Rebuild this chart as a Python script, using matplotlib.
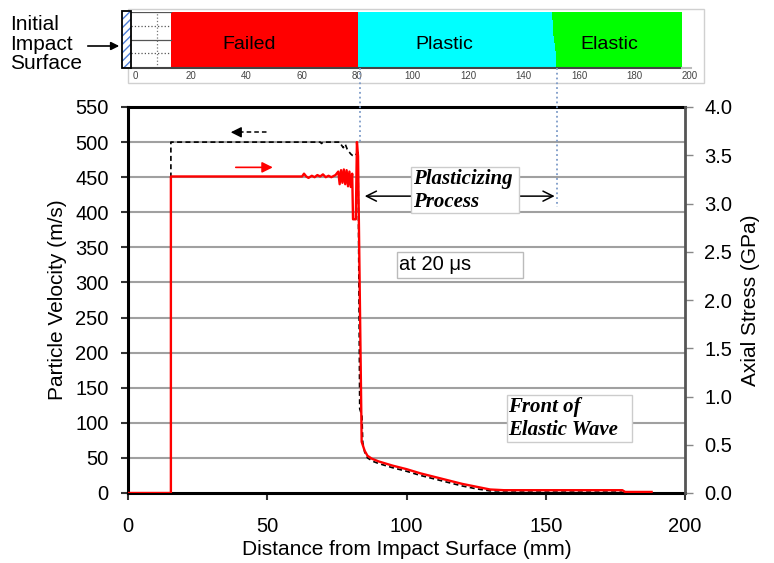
import matplotlib
matplotlib.use('Agg')
import matplotlib.pyplot as plt
from matplotlib.patches import Rectangle, FancyArrowPatch
from matplotlib.lines import Line2D
import numpy as np

plt.rcParams.update({'font.family': ['Liberation Sans', 'DejaVu Sans'], 'font.size': 14})

# ---- data ----
# particle velocity (red, solid)
dist_red = [0, 15.4, 15.4, 62.5, 63.2, 64.0, 64.8, 66.0, 67.0, 68.0, 69.0, 70.0, 71.0, 72.0,
            73.0, 74.5, 75.5, 76.0, 76.5, 77.0, 77.5, 78.0, 78.5, 79.0, 79.5, 80.0, 80.5,
            80.8, 81.8, 82.2, 82.6, 83.9, 85.0, 86.0, 87.5, 90, 95, 100, 105, 110, 115,
            120, 125, 130, 135, 140, 150, 160, 170, 177.5, 178.5, 188]
vel_red = [0, 0, 451, 451, 455, 451, 449, 452, 450, 453, 451, 454, 450, 452,
           450, 453, 458, 440, 460, 442, 461, 440, 460, 437, 458, 436, 455,
           390, 390, 500, 480, 73, 60, 53, 49, 45, 39, 34, 28, 23, 18,
           13, 9, 5, 4, 4, 4, 4, 4, 4, 1.5, 1.5]

# axial stress (black, dashed), drawn on the velocity scale
dist_blk = [0, 15.4, 15.4, 69.0, 69.5, 70.0, 76.0, 76.6, 77.3, 78.0, 78.7, 79.4, 80.0,
            80.6, 81.2, 82.6, 83.2, 84.0, 84.3, 85.0, 86.0, 88.0, 90, 95, 100, 105, 110,
            115, 120, 125, 130, 135, 140, 150, 160, 170, 177.5]
vel_blk = [0, 0, 500, 500, 498, 500, 500, 496, 492, 497, 490, 486, 483,
           481, 480, 485, 120, 110, 72, 58, 50, 45, 42, 36, 31, 25, 20,
           15, 10, 6, 3, 3, 3, 3, 3, 3, 3]

vel_ticks = np.arange(0, 551, 50)
stress_ticks = np.arange(0, 4.01, 0.5)
dist_ticks = [0, 50, 100, 150, 200]

# zones of the sketch strip above the chart
zone_names = ['Failed', 'Plastic', 'Elastic']
zone_start = [13.0, 80.4, 150.2]
zone_end = [80.4, 150.2, 197.0]
zone_colors = ['#FF0000', '#00FFFF', '#00FF00']
zone_label_x = [41, 111.5, 171]
# ragged plastic/elastic boundary, top to bottom
edge_rows = [1.0, 0.86, 0.72, 0.58, 0.44, 0.30, 0.16, 0.0]
edge_x = [150.2, 150.8, 150.5, 151.1, 151.4, 151.7, 151.7, 151.7]
strip_ticks = np.arange(0, 201, 20)

W, H = 774, 563
fig = plt.figure(figsize=(W / 100, H / 100), dpi=100)


def px(x0, y0, x1, y1):
    return [x0 / W, 1 - y1 / H, (x1 - x0) / W, (y1 - y0) / H]


# ---------------- main chart ----------------
ax = fig.add_axes(px(128, 107, 685, 493))
ax.set_xlim(0, 200)
ax.set_ylim(0, 550)
for v in vel_ticks[1:-1]:
    ax.axhline(v, color='#A0A0A0', lw=1.5, zorder=1)
ax.plot(dist_blk, vel_blk, color='black', lw=1.2, ls=(0, (3, 2)), zorder=3)
ax.plot(dist_red, vel_red, color='#FF0000', lw=1.7, zorder=4)

ax.set_xticks(dist_ticks)
ax.set_yticks(vel_ticks)
ax.tick_params(axis='both', direction='out', length=5, width=1.5, color='#333333',
               labelsize=14.5)
ax.tick_params(axis='y', pad=9)
ax.tick_params(axis='x', pad=12)
for s in ['left', 'bottom', 'top']:
    ax.spines[s].set_linewidth(2.2)
    ax.spines[s].set_color('black')
ax.spines['right'].set_visible(False)
ax.set_xlabel('Distance from Impact Surface (mm)', fontsize=15, labelpad=3)
ax.set_ylabel('Particle Velocity (m/s)', fontsize=15, labelpad=6)

ax2 = ax.twinx()
ax2.set_ylim(0, 4.0)
ax2.set_yticks(stress_ticks)
ax2.set_yticklabels(['%.1f' % t for t in stress_ticks])
ax2.tick_params(axis='y', direction='out', length=6, width=1, color='#888888',
                labelsize=14.5, pad=8)
ax2.spines['right'].set_linewidth(2)
ax2.spines['right'].set_color('#555555')
for s in ['left', 'bottom', 'top']:
    ax2.spines[s].set_visible(False)
ax2.set_ylabel('Axial Stress (GPa)', fontsize=15, rotation=90, labelpad=6)

# direction arrows
ax.plot([40, 50], [514, 514], color='black', lw=1.1, ls=(0, (3, 2)))
ax.annotate('', xy=(35.9, 514), xytext=(40.5, 514),
            arrowprops=dict(arrowstyle='-|>', color='black', lw=1, mutation_scale=16))
ax.annotate('', xy=(53, 464), xytext=(37.7, 464),
            arrowprops=dict(arrowstyle='-|>', color='#FF0000', lw=1.2, mutation_scale=16))

serif_bi = dict(family=['Liberation Serif', 'DejaVu Serif'], weight='bold', style='italic',
                fontsize=15)

# plasticizing process
ax.annotate('', xy=(84, 423), xytext=(154.2, 423),
            arrowprops=dict(arrowstyle='<->', color='black', lw=1.1, mutation_scale=18))
ax.add_patch(Rectangle((101.6, 399), 38.8, 65.5, facecolor='white', edgecolor='#CCCCCC',
                       lw=1, zorder=5))
ax.text(102.4, 447, 'Plasticizing', va='center', ha='left', zorder=6, **serif_bi)
ax.text(102.4, 415, 'Process', va='center', ha='left', zorder=6, **serif_bi)

# time label
ax.add_patch(Rectangle((96.6, 306), 45.2, 37, facecolor='white', edgecolor='#BBBBBB',
                       lw=1, zorder=5))
ax.text(97.4, 325, 'at 20 \u03bcs', va='center', ha='left', fontsize=14.5, zorder=6)

# front of elastic wave
ax.add_patch(Rectangle((136.1, 72.7), 44.9, 66.9, facecolor='white', edgecolor='#CCCCCC',
                       lw=1, zorder=5))
ax.text(136.6, 123, 'Front of', va='center', ha='left', zorder=6, **serif_bi)
ax.text(136.6, 90, 'Elastic Wave', va='center', ha='left', zorder=6, **serif_bi)

# ---------------- strip sketch ----------------
frame = Rectangle((128 / W, 1 - 83 / H), (704 - 128) / W, (83 - 9) / H,
                  transform=fig.transFigure, facecolor='white',
                  edgecolor='#D0D0D0', lw=1, zorder=-1)
fig.patches.append(frame)
sx = fig.add_axes(px(121.1, 12, 703.9, 68))
sx.set_xlim(-5, 205)
sx.set_ylim(0, 1)
sx.patch.set_alpha(0)
for name, a, b, c, lx in zip(zone_names, zone_start, zone_end, zone_colors, zone_label_x):
    if name == 'Plastic':
        sx.fill_betweenx(edge_rows, a, edge_x, color=c, lw=0, step='post')
        sx.add_patch(Rectangle((a, 0), 150.2 - a, 1, facecolor=c, lw=0))
    elif name == 'Elastic':
        sx.fill_betweenx(edge_rows, edge_x, b, color=c, lw=0, step='post')
    else:
        sx.add_patch(Rectangle((a, 0), b - a, 1, facecolor=c, lw=0))
    sx.text(lx, 0.42, name, ha='center', va='center', fontsize=14)

# impact face: blue hatch, black outline
sx.add_patch(Rectangle((-4.7, 0), 3.3, 1.02, facecolor='white', edgecolor='#4F7FD8', lw=0,
                       hatch='////', zorder=4, clip_on=False))
sx.add_patch(Rectangle((-4.7, 0), 3.3, 1.02, fill=False, edgecolor='black', lw=1.3,
                       zorder=5, clip_on=False))
for yy, ls in zip([0.75, 0.5, 0.27, 1.0], [':', '-', ':', '-']):
    sx.plot([-1.4, 13.0], [yy, yy], color='#555555', lw=0.9, ls=ls)
sx.plot([7.9, 7.9], [0, 1], color='#777777', lw=0.9, ls=':')
sx.plot([-1.4, 197.0], [0, 0], color='#444444', lw=1.5, clip_on=False)
sx.plot([197.0, 200.5], [0, 0], color='#BBBBBB', lw=1.5, clip_on=False)
for s in sx.spines.values():
    s.set_visible(False)
sx.set_yticks([])
sx.set_xticks(strip_ticks)
sx.tick_params(axis='x', length=0, pad=2.5, labelsize=7, labelcolor='#444444')

fig.text(10 / W, 1 - 24 / H, 'Initial', ha='left', va='center', fontsize=15)
fig.text(10 / W, 1 - 44 / H, 'Impact', ha='left', va='center', fontsize=15)
fig.text(10 / W, 1 - 64 / H, 'Surface', ha='left', va='center', fontsize=15)
fig.patches.append(FancyArrowPatch(
    (85 / W, 1 - 46 / H), (122 / W, 1 - 46 / H), transform=fig.transFigure,
    arrowstyle='-|>', mutation_scale=12, color='black', lw=1.2))

# dotted guides from strip to chart
for x0, y1 in [(360, 142), (557, 207)]:
    fig.lines.append(Line2D([x0 / W, x0 / W], [1 - 68 / H, 1 - y1 / H],
                            transform=fig.transFigure, color='#7D9BC8', lw=1.3, ls=':'))

fig.savefig('out.png', dpi=100)
